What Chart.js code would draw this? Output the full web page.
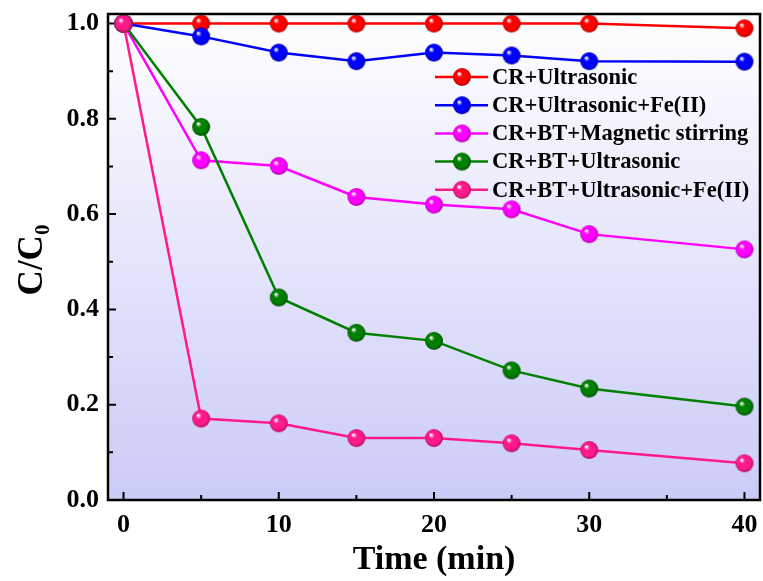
<!DOCTYPE html>
<html>
<head>
<meta charset="utf-8">
<script src="https://cdn.jsdelivr.net/npm/chart.js@4"></script>
<style>
  html, body { margin: 0; padding: 0; background: #fff; }
  canvas { display: block; }
</style>
</head>
<body>
<canvas id="chart" width="763" height="581"></canvas>
<script>
'use strict';

// time points (min)
const times = [0, 5, 10, 15, 20, 25, 30, 40];

// C/C0
const crUltrasonic = [1.0, 1.0, 1.0, 1.0, 1.0, 1.0, 1.0, 0.99];
const crUltrasonicFe = [1.0, 0.973, 0.939, 0.921, 0.939, 0.933, 0.921, 0.92];
const crBtStirring = [1.0, 0.713, 0.701, 0.636, 0.620, 0.610, 0.558, 0.526];
const crBtUltrasonic = [1.0, 0.783, 0.425, 0.351, 0.334, 0.272, 0.234, 0.196];
const crBtUltrasonicFe = [1.0, 0.171, 0.161, 0.130, 0.130, 0.119, 0.105, 0.077];

const seriesNames = [
    'CR+Ultrasonic',
    'CR+Ultrasonic+Fe(II)',
    'CR+BT+Magnetic stirring',
    'CR+BT+Ultrasonic',
    'CR+BT+Ultrasonic+Fe(II)'
];
const seriesValues = [crUltrasonic, crUltrasonicFe, crBtStirring, crBtUltrasonic, crBtUltrasonicFe];
const seriesColors = ['#ff0000', '#0000ff', '#ff00ff', '#008000', '#ff1a8c'];
const seriesDark = ['#b00000', '#0000a8', '#b000b0', '#004a00', '#b0105e'];

const FONT = '"Liberation Serif", "Times New Roman", serif';

// shaded ball used as a marker
function makeBall(color, dark, r) {
    let c = document.createElement('canvas'),
        size = r * 2 + 2;
    c.width = size;
    c.height = size;
    let g = c.getContext('2d'),
        cx = size / 2,
        cy = size / 2,
        grad = g.createRadialGradient(cx - r * 0.35, cy - r * 0.38, 0.5, cx, cy, r);
    grad.addColorStop(0, '#ffffff');
    grad.addColorStop(0.28, color);
    grad.addColorStop(0.75, color);
    grad.addColorStop(1, dark);
    g.fillStyle = grad;
    g.beginPath();
    g.arc(cx, cy, r, 0, Math.PI * 2);
    g.fill();
    return c;
}

const balls = seriesColors.map((c, i) => makeBall(c, seriesDark[i], 9));

function points(values) {
    return times.map((t, i) => ({x: t, y: values[i]}));
}

const datasets = seriesNames.map((name, i) => ({
    label: name,
    data: points(seriesValues[i]),
    borderColor: seriesColors[i],
    backgroundColor: seriesColors[i],
    borderWidth: 2.5,
    pointStyle: balls[i],
    pointRadius: 9,
    tension: 0,
    order: seriesNames.length - 1 - i
}));

// plot background, frame, inward ticks, y title and legend
const decor = {
    id: 'decor',
    beforeDatasetsDraw(chart) {
        let ctx = chart.ctx,
            a = chart.chartArea,
            grad = ctx.createLinearGradient(0, a.top, 0, a.bottom);
        grad.addColorStop(0, '#ffffff');
        grad.addColorStop(1, '#cbcbf8');
        ctx.save();
        ctx.fillStyle = grad;
        ctx.fillRect(a.left, a.top, a.right - a.left, a.bottom - a.top);

        let xs = chart.scales.x,
            ys = chart.scales.y;
        ctx.strokeStyle = '#000';
        ctx.lineWidth = 2;
        ctx.beginPath();
        for (let v = 0; v <= 40; v += 5) {
            let px = xs.getPixelForValue(v),
                len = v % 10 === 0 ? 8 : 5;
            ctx.moveTo(px, a.bottom);
            ctx.lineTo(px, a.bottom - len);
        }
        for (let k = 0; k <= 10; k++) {
            let py = ys.getPixelForValue(k / 10),
                len = k % 2 === 0 ? 8 : 5;
            ctx.moveTo(a.left, py);
            ctx.lineTo(a.left + len, py);
        }
        ctx.stroke();
        ctx.restore();
    },
    afterDraw(chart) {
        let ctx = chart.ctx,
            a = chart.chartArea;
        ctx.save();
        ctx.strokeStyle = '#000';
        ctx.lineWidth = 2.5;
        ctx.strokeRect(a.left, a.top, a.right - a.left, a.bottom - a.top);

        // y title C/C0 with subscript
        ctx.translate(30, 260);
        ctx.rotate(-Math.PI / 2);
        ctx.fillStyle = '#000';
        ctx.textBaseline = 'alphabetic';
        ctx.font = 'bold 35px ' + FONT;
        let main = 'C/C',
            w1 = ctx.measureText(main).width;
        ctx.font = 'bold 21px ' + FONT;
        let w2 = ctx.measureText('0').width,
            x0 = -(w1 + w2) / 2;
        ctx.font = 'bold 35px ' + FONT;
        ctx.fillText(main, x0, 12);
        ctx.font = 'bold 21px ' + FONT;
        ctx.fillText('0', x0 + w1, 19);
        ctx.restore();

        // legend
        ctx.save();
        ctx.font = 'bold 22.5px ' + FONT;
        ctx.textBaseline = 'middle';
        chart.data.datasets.forEach((ds, i) => {
            let y = 77 + i * 28.2;
            ctx.strokeStyle = ds.borderColor;
            ctx.lineWidth = 2.5;
            ctx.beginPath();
            ctx.moveTo(435, y);
            ctx.lineTo(488, y);
            ctx.stroke();
            ctx.drawImage(balls[i], 462 - balls[i].width / 2, y - balls[i].height / 2);
            ctx.fillStyle = '#000';
            ctx.fillText(ds.label, 492, y + 1);
        });
        ctx.restore();
    }
};

new Chart(document.getElementById('chart'), {
    type: 'line',
    data: {datasets: datasets},
    options: {
        responsive: false,
        animation: false,
        layout: {autoPadding: false, padding: {top: 14, right: 3, left: 0, bottom: 0}},
        plugins: {
            legend: {display: false},
            tooltip: {enabled: false}
        },
        scales: {
            x: {
                type: 'linear',
                min: -1,
                max: 41,
                grid: {display: false, drawTicks: false},
                border: {display: false},
                ticks: {
                    stepSize: 10,
                    includeBounds: false,
                    padding: 10,
                    color: '#000',
                    font: {family: FONT, size: 26, weight: 'bold'},
                    callback: v => String(v)
                },
                title: {
                    display: true,
                    text: 'Time (min)',
                    color: '#000',
                    padding: {top: 0, bottom: 0},
                    font: {family: FONT, size: 34, weight: 'bold'}
                },
                afterFit(scale) {
                    scale.height = 81;
                    scale.paddingLeft = 0;
                    scale.paddingRight = 0;
                }
            },
            y: {
                min: 0,
                max: 1.02,
                grid: {display: false, drawTicks: false},
                border: {display: false},
                ticks: {
                    stepSize: 0.2,
                    includeBounds: false,
                    padding: 9,
                    color: '#000',
                    font: {family: FONT, size: 26, weight: 'bold'},
                    callback: v => Number(v).toFixed(1)
                },
                afterFit(scale) {
                    scale.width = 108;
                    scale.paddingTop = 0;
                    scale.paddingBottom = 0;
                }
            }
        }
    },
    plugins: [decor]
});
</script>
</body>
</html>
